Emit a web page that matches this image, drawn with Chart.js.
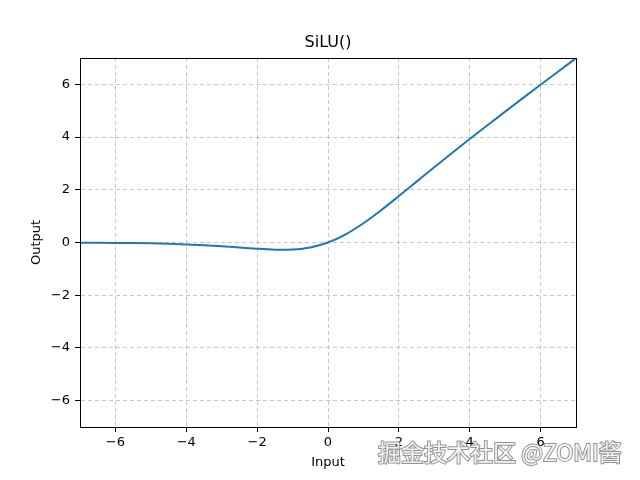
<!DOCTYPE html>
<html>
<head>
<meta charset="utf-8">
<script src="https://cdn.jsdelivr.net/npm/chart.js@4"></script>
<style>
  html, body { margin: 0; padding: 0; background: #fff; }
  #wrap { position: relative; width: 640px; height: 480px; }
</style>
</head>
<body>
<div id="wrap"><canvas id="chart" width="640" height="480"></canvas></div>
<script>
// values
const inputs = [-7, -6.5, -6, -5.5, -5, -4.5, -4, -3.5, -3, -2.5, -2, -1.5, -1.25, -1, -0.5,
                0, 0.5, 1, 1.5, 2, 2.5, 3, 3.5, 4, 4.5, 5, 5.5, 6, 6.5, 7];
const outputs = [-0.006, -0.010, -0.015, -0.022, -0.033, -0.050, -0.072, -0.102, -0.142, -0.190,
                 -0.238, -0.274, -0.278, -0.269, -0.189, 0, 0.311, 0.731, 1.226, 1.762, 2.310,
                 2.858, 3.398, 3.928, 4.450, 4.967, 5.478, 5.985, 6.490, 6.994];
const xTicks = [-6, -4, -2, 0, 2, 4, 6];
const yTicks = [-6, -4, -2, 0, 2, 4, 6];
const titleText = 'SiLU()';
const watermark = '掘金技术社区 @ZOMI酱';

const font = 'DejaVu Sans';
const points = inputs.map((x, i) => ({ x: x, y: outputs[i] }));

// cadre complet, titre centré sur la zone du graphe, filigrane
const framePlugin = {
    id: 'frame',
    afterDatasetsDraw(chart) {
        const { ctx, chartArea: a } = chart;
        ctx.save();
        ctx.strokeStyle = '#000';
        ctx.lineWidth = 1;
        ctx.strokeRect(Math.round(a.left) + 0.5, Math.round(a.top) + 0.5,
            Math.round(a.right - a.left), Math.round(a.bottom - a.top));
        ctx.restore();
    },
    afterDraw(chart) {
        const { ctx, chartArea: a } = chart;
        ctx.save();
        ctx.font = '16px "' + font + '"';
        ctx.fillStyle = '#000';
        ctx.textAlign = 'center';
        ctx.textBaseline = 'middle';
        ctx.fillText(titleText, (a.left + a.right) / 2, 43);

        ctx.font = '23px "Noto Sans CJK SC"';
        ctx.textAlign = 'left';
        ctx.lineWidth = 2;
        ctx.strokeStyle = 'rgba(120,120,120,0.8)';
        ctx.fillStyle = 'rgba(255,255,255,0.9)';
        ctx.strokeText(watermark, 378, 452);
        ctx.fillText(watermark, 378, 452);
        ctx.restore();
    }
};

const minus = v => String(v).replace('-', '\u2212');

new Chart(document.getElementById('chart'), {
    type: 'line',
    data: {
        datasets: [{
            data: points,
            borderColor: '#1f77b4',
            borderWidth: 2,
            pointRadius: 0,
            cubicInterpolationMode: 'monotone',
            fill: false
        }]
    },
    options: {
        responsive: false,
        animation: false,
        layout: { padding: { left: 0, right: 64, top: 58, bottom: 0 } },
        plugins: {
            legend: { display: false },
            tooltip: { enabled: false },
            title: { display: false }
        },
        scales: {
            x: {
                type: 'linear',
                min: -7,
                max: 7,
                afterBuildTicks: s => { s.ticks = xTicks.map(v => ({ value: v })); },
                afterFit: s => { s.height = 53; },
                grid: {
                    color: 'rgba(176,176,176,0.7)',
                    tickColor: '#000',
                    tickLength: 5,
                    tickBorderDash: []
                },
                border: { display: true, color: '#000', dash: [4, 3] },
                ticks: {
                    color: '#000',
                    padding: 3,
                    maxRotation: 0,
                    font: { family: font, size: 13 },
                    callback: v => minus(v)
                },
                title: {
                    display: true,
                    text: 'Input',
                    color: '#000',
                    font: { family: font, size: 13 },
                    padding: { top: 0, bottom: 10 }
                }
            },
            y: {
                type: 'linear',
                min: -7,
                max: 7,
                afterBuildTicks: s => { s.ticks = yTicks.map(v => ({ value: v })); },
                afterFit: s => { s.width = 80; },
                grid: {
                    color: 'rgba(176,176,176,0.7)',
                    tickColor: '#000',
                    tickLength: 5,
                    tickBorderDash: []
                },
                border: { display: true, color: '#000', dash: [4, 3] },
                ticks: {
                    color: '#000',
                    padding: 5,
                    font: { family: font, size: 13 },
                    callback: v => minus(v)
                },
                title: {
                    display: true,
                    text: 'Output',
                    color: '#000',
                    font: { family: font, size: 13 },
                    padding: { top: 29, bottom: 0 }
                }
            }
        }
    },
    plugins: [framePlugin]
});
</script>
</body>
</html>
